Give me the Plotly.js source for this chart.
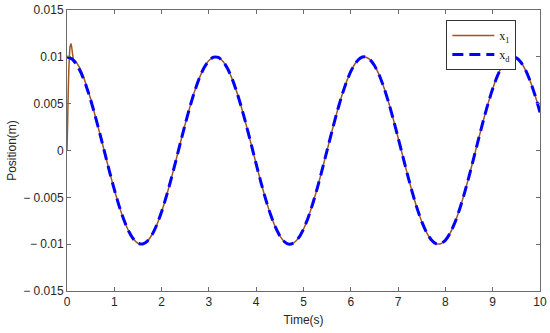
<!DOCTYPE html>
<html>
<head>
<meta charset="utf-8">
<script src="https://cdn.plot.ly/plotly-3.0.1.min.js"></script>
<style>html,body{margin:0;padding:0;background:#fff;}#chart{width:550px;height:333px;}</style>
</head>
<body>
<div id="chart"></div>
<script>
var timeD = [];
for (var i = 0; i <= 100; i++) timeD.push(+(i * 0.1).toFixed(1));
var xdVals = [
 0.010000, 0.009801, 0.009211, 0.008253, 0.006967, 0.005403, 0.003624, 0.001700, -0.000292, -0.002272,
-0.004161, -0.005885, -0.007374, -0.008569, -0.009422, -0.009900, -0.009983, -0.009668, -0.008968, -0.007910,
-0.006536, -0.004903, -0.003073, -0.001122, 0.000875, 0.002837, 0.004685, 0.006347, 0.007756, 0.008855,
 0.009602, 0.009965, 0.009932, 0.009502, 0.008694, 0.007539, 0.006084, 0.004386, 0.002513, 0.000540,
-0.001455, -0.003392, -0.005193, -0.006787, -0.008111, -0.009111, -0.009748, -0.009997, -0.009847, -0.009304,
-0.008391, -0.007143, -0.005610, -0.003853, -0.001943, 0.000044, 0.002030, 0.003935, 0.005683, 0.007204,
 0.008439, 0.009336, 0.009862, 0.009994, 0.009728, 0.009075, 0.008059, 0.006722, 0.005117, 0.003308,
 0.001367, -0.000628, -0.002598, -0.004465, -0.006154, -0.007597, -0.008737, -0.009530, -0.009942, -0.009958,
-0.009577, -0.008814, -0.007700, -0.006278, -0.004607, -0.002752, -0.000787, 0.001209, 0.003158, 0.004980,
 0.006603, 0.007964, 0.009006, 0.009690, 0.009988, 0.009887, 0.009392, 0.008523, 0.007314, 0.005813,
 0.004081
];
// Actual position x_1: initial transient then tracking
var time1 = [0, 0.01, 0.02, 0.035, 0.05, 0.065, 0.085, 0.1, 0.12, 0.14, 0.17, 0.2, 0.3, 0.4, 0.5];
var x1Vals = [0, 0.0022, 0.0048, 0.0080, 0.0100, 0.0111, 0.0114, 0.0110, 0.0102, 0.0097, 0.0096, 0.0094, 0.0085, 0.0071, 0.0055];
for (var j = 6; j <= 100; j++) { time1.push(timeD[j]); x1Vals.push(xdVals[j]); }

var yTickVals = [-0.015, -0.01, -0.005, 0, 0.005, 0.01, 0.015];
var yTickText = ['\u2212 0.015', '\u2212 0.01', '\u2212 0.005', '0', '0.005', '0.01', '0.015'];
var xTickVals = [0,1,2,3,4,5,6,7,8,9,10];

var traces = [
  {x: time1, y: x1Vals, name: 'x<sub>1</sub>', mode: 'lines',
   line: {color: '#A0561E', width: 1.5, shape: 'spline', smoothing: 0.6}},
  {x: timeD, y: xdVals, name: 'x<sub>d</sub>', mode: 'lines',
   line: {color: '#0000FF', width: 3, dash: '11px,6px', shape: 'spline', smoothing: 0.6}}
];

var axisCommon = {
  showgrid: false, zeroline: false, showline: true, linecolor: '#6b6b6b', linewidth: 1,
  mirror: 'ticks', ticks: 'inside', ticklen: 4, tickcolor: '#6b6b6b',
  tickfont: {family: 'Liberation Sans, Arial, sans-serif', size: 12, color: '#262626'}
};

var layout = {
  width: 550, height: 333,
  margin: {l: 67, r: 10, t: 10, b: 42},
  paper_bgcolor: '#fff', plot_bgcolor: '#fff',
  showlegend: true,
  legend: {x: 0.95, y: 0.964, xanchor: 'right', yanchor: 'top',
    bordercolor: '#333', borderwidth: 1, bgcolor: '#fff',
    font: {family: 'Liberation Serif, Times New Roman, serif', size: 12, color: '#111'},
    itemwidth: 42, tracegroupgap: 0},
  xaxis: Object.assign({}, axisCommon, {
    range: [0, 10], tickvals: xTickVals,
    title: {text: 'Time(s)', font: {family: 'Liberation Sans, Arial, sans-serif', size: 12, color: '#262626'}, standoff: 7}
  }),
  yaxis: Object.assign({}, axisCommon, {
    range: [-0.015, 0.015], tickvals: yTickVals, ticktext: yTickText,
    title: {text: 'Position(m)', font: {family: 'Liberation Sans, Arial, sans-serif', size: 12, color: '#262626'}, standoff: 4}
  })
};

Plotly.newPlot('chart', traces, layout, {displayModeBar: false, staticPlot: true});
</script>
</body>
</html>
